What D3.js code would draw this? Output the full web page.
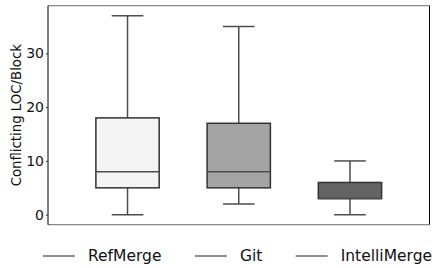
<!DOCTYPE html>
<html><head><meta charset="utf-8">
<script src="https://cdn.jsdelivr.net/npm/d3@7"></script>
<style>body{margin:0;background:#fff}svg{display:block}</style>
</head><body>
<script>
const categories = ["RefMerge", "Git", "IntelliMerge"];
const whiskerLow = [0, 2, 0];
const q1 = [5, 5, 3];
const median = [8, 8, 3];
const q3 = [18, 17, 6];
const whiskerHigh = [37, 35, 10];
const fills = ["#f4f4f4", "#a4a4a4", "#646464"];
const yTicks = [0, 10, 20, 30];

const W = 435, H = 268;
const m = {left: 48, right: 5.5, top: 5.7, bottom: 43.3};
const svg = d3.select("body").append("svg").attr("width", W).attr("height", H);
const x = d3.scaleLinear().domain([-0.715, 2.715]).range([m.left, W - m.right]);
const y = d3.scaleLinear().domain([-1.85, 38.85]).range([H - m.bottom, m.top]);
const bw = 0.569, cw = 0.2845;

const g = svg.append("g");
const data = categories.map((c, i) => ({c, i, lo: whiskerLow[i], q1: q1[i], med: median[i], q3: q3[i], hi: whiskerHigh[i], fill: fills[i]}));
const lc = "#4d4d4d";
const b = g.selectAll("g.box").data(data).join("g");
b.append("line").attr("x1", d => x(d.i)).attr("x2", d => x(d.i)).attr("y1", d => y(d.hi)).attr("y2", d => y(d.q3)).attr("stroke", lc).attr("stroke-width", 1.5);
b.append("line").attr("x1", d => x(d.i)).attr("x2", d => x(d.i)).attr("y1", d => y(d.q1)).attr("y2", d => y(d.lo)).attr("stroke", lc).attr("stroke-width", 1.5);
b.append("line").attr("x1", d => x(d.i - cw/2)).attr("x2", d => x(d.i + cw/2)).attr("y1", d => y(d.hi)).attr("y2", d => y(d.hi)).attr("stroke", lc).attr("stroke-width", 1.5);
b.append("line").attr("x1", d => x(d.i - cw/2)).attr("x2", d => x(d.i + cw/2)).attr("y1", d => y(d.lo)).attr("y2", d => y(d.lo)).attr("stroke", lc).attr("stroke-width", 1.5);
b.append("rect").attr("x", d => x(d.i - bw/2)).attr("width", d => x(d.i + bw/2) - x(d.i - bw/2))
  .attr("y", d => y(d.q3)).attr("height", d => y(d.q1) - y(d.q3))
  .attr("fill", d => d.fill).attr("stroke", "#333").attr("stroke-width", 1.5);
b.append("line").attr("x1", d => x(d.i - bw/2)).attr("x2", d => x(d.i + bw/2)).attr("y1", d => y(d.med)).attr("y2", d => y(d.med)).attr("stroke", lc).attr("stroke-width", 1.5);

// frame
const x0 = m.left, x1 = W - m.right, y0 = m.top, y1 = H - m.bottom;
svg.append("line").attr("x1", x0).attr("x2", x1).attr("y1", y0).attr("y2", y0).attr("stroke", "#888").attr("stroke-width", 1.2);
svg.append("line").attr("x1", x0).attr("x2", x1).attr("y1", y1).attr("y2", y1).attr("stroke", "#888").attr("stroke-width", 1.2);
svg.append("line").attr("x1", x0).attr("x2", x0).attr("y1", y0).attr("y2", y1).attr("stroke", "#000").attr("stroke-width", 1);
svg.append("line").attr("x1", x1).attr("x2", x1).attr("y1", y0).attr("y2", y1).attr("stroke", "#000").attr("stroke-width", 1);

const ya = svg.append("g").attr("transform", `translate(${x0},0)`)
  .call(d3.axisLeft(y).tickValues(yTicks).tickSize(2).tickPadding(2).tickFormat(d3.format("d")));
ya.select(".domain").remove();
ya.selectAll("text").attr("font-family", "DejaVu Sans").attr("font-size", 14).attr("fill", "#111");
ya.selectAll("line").attr("stroke", "#333");

svg.append("text").attr("transform", `translate(17,${(y0+y1)/2}) rotate(-90)`)
  .attr("text-anchor", "middle").attr("dominant-baseline", "middle")
  .attr("font-family", "DejaVu Sans").attr("font-size", 13.3).attr("fill", "#111")
  .text("Conflicting LOC/Block");

// legend
const legX = [43, 195, 295.7];
const leg = svg.selectAll("g.leg").data(categories).join("g").attr("transform", (d, i) => `translate(${legX[i]},256)`);
leg.append("line").attr("x1", 0).attr("x2", 32).attr("stroke", "#222").attr("stroke-width", 1);
leg.append("text").attr("x", 45).attr("dominant-baseline", "middle")
  .attr("font-family", "DejaVu Sans").attr("font-size", 15.5).attr("fill", "#111").text(d => d);
</script>
</body></html>
